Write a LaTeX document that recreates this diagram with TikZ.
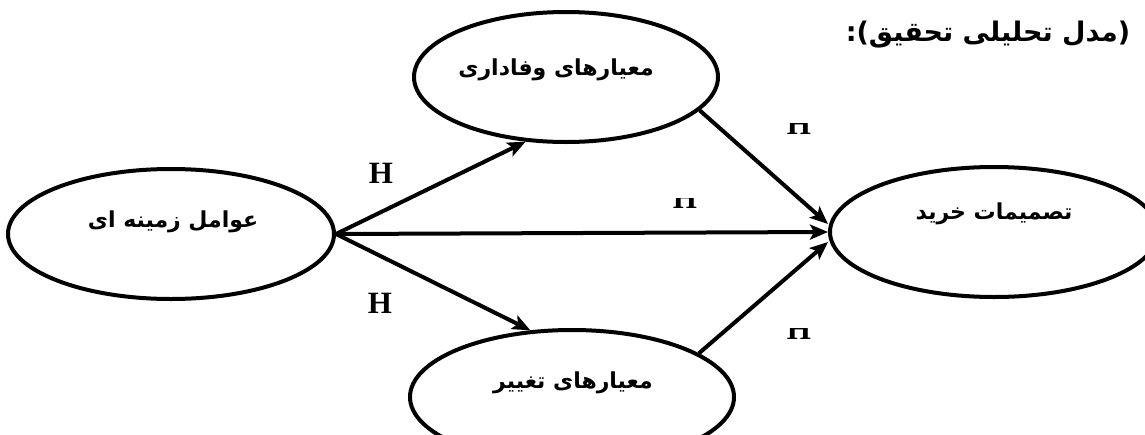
\documentclass[tikz,border=0pt]{standalone}
\usepackage{fontspec}
\setmainfont{Liberation Serif}
\newfontfamily\arfont[Script=Arabic]{DejaVu Sans}
\TeXXeTstate=1
\usetikzlibrary{shapes.geometric,arrows.meta,calc}
\tikzset{
 ell/.style={ellipse, draw, line width=4pt, inner sep=0pt, fill=white},
 lbl/.style={font=\arfont\bfseries\fontsize{22}{26}\selectfont, inner sep=0pt},
 ttl/.style={font=\arfont\bfseries\fontsize{27}{30}\selectfont, inner sep=0pt},
 hl/.style={font=\bfseries\fontsize{31}{33}\selectfont, inner sep=0pt},
 conn/.style={line width=4pt, -{Stealth[length=18pt,width=15pt,inset=4pt]}},
}
\begin{document}
\begin{tikzpicture}[x=1pt,y=-1pt]
\clip (0,0) rectangle (1145,434);
\fill[white] (0,0) rectangle (1145,434);
\node[ell, minimum width=326pt, minimum height=130pt] (L) at (171,234) {};
\node[ell, minimum width=304pt, minimum height=130pt] (T) at (566,77) {};
\node[ell, minimum width=324pt, minimum height=134pt] (B) at (572,397) {};
\node[ell, minimum width=328pt, minimum height=130pt] (R) at (994,232) {};
\node[lbl] (Lt) at (173,222) {\beginR عوامل زمینه ای\endR};
\node[lbl] (Tt) at (556,70) {\beginR معیارهای وفاداری\endR};
\node[lbl] (Bt) at (573,383) {\beginR معیارهای تغییر\endR};
\node[lbl] (Rt) at (994,214) {\beginR تصمیمات خرید\endR};
\node[ttl] (title) at (988,35) {\beginR (مدل تحلیلی تحقیق):\endR};
\draw[conn] (L.east) -- (R.west);
\draw[conn] (L.east) -- (T.238);
\draw[conn] (L.east) -- (B.122);
\draw[conn] (T.346) -- ($(R.west)+(0,-8)$);
\draw[conn] (B.19) -- ($(R.west)+(0,10)$);
\node[hl] (h1) at (381,173) {H};
\node[hl] (h2) at (380,303) {H};
\begin{scope}
\clip (770,123) rectangle (830,145);
\node[hl] (h3) at (799,124) {H};
\end{scope}
\begin{scope}
\clip (655,198) rectangle (715,220);
\node[hl] (h4) at (685,198) {H};
\end{scope}
\begin{scope}
\clip (770,328) rectangle (830,350);
\node[hl] (h5) at (799,329) {H};
\end{scope}
\end{tikzpicture}
\end{document}
